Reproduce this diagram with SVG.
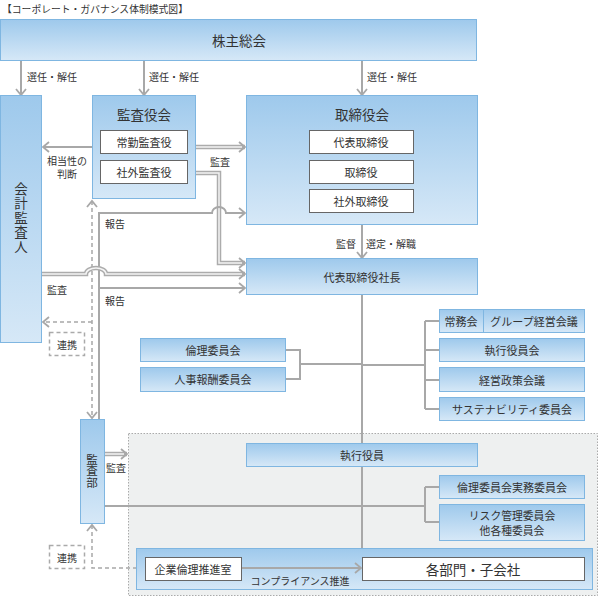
<svg xmlns="http://www.w3.org/2000/svg" width="600" height="597" viewBox="0 0 600 597">
<defs>
<linearGradient id="g" x1="0" y1="0" x2="0" y2="1"><stop offset="0" stop-color="#9ec9ec"/><stop offset="1" stop-color="#d6e8f7"/></linearGradient>
<marker id="a" markerUnits="userSpaceOnUse" markerWidth="10" markerHeight="12" refX="7" refY="6" orient="auto-start-reverse" overflow="visible"><path d="M1,1 L7,6 L1,11" fill="none" stroke="#a8a8a8" stroke-width="1.8"/></marker>
</defs>
<style>
.b{fill:url(#g);stroke:#7fb6e1;stroke-width:1}
.w{fill:#fff;stroke:#666;stroke-width:1}
.t{font-family:'Noto Sans CJK JP','Noto Sans',sans-serif;fill:#333;text-anchor:middle;dominant-baseline:central;font-size:11px}
.l{font-size:13.5px}
.s{font-size:10px}
.st{text-anchor:start}
.v{writing-mode:vertical-rl;text-orientation:upright}
.ln{fill:none;stroke:#a8a8a8;stroke-width:2}
.ho{fill:none;stroke:#acacac;stroke-width:4.5}
.hi{fill:none;stroke:#f4f4f4;stroke-width:1.5}
.da{fill:none;stroke:#a8a8a8;stroke-width:1.5;stroke-dasharray:4 3}
.dr{fill:#fff;stroke:#aaa;stroke-width:1.5;stroke-dasharray:4 3}
</style>
<text class="t st" x="2" y="9" style="font-size:9.8px">【コーポレート・ガバナンス体制模式図】</text>
<g id="compartment"><rect x="128.5" y="433.5" width="469" height="162" fill="#eef0f0" stroke="#aaa" stroke-dasharray="1.5 1.5"/></g>
<g id="connectors">
<path class="ln" d="M362,294 V548"/>
<path class="ln" d="M21,61 V95" marker-end="url(#a)"/>
<path class="ln" d="M144,61 V95" marker-end="url(#a)"/>
<path class="ln" d="M362,61 V95" marker-end="url(#a)"/>
<path class="ln" d="M362,225 V258" marker-end="url(#a)"/>
<path class="ln" d="M362,365 H425 M425,321 V409 M425,321 H439 M425,350 H439 M425,380 H439 M425,409 H439"/>
<path class="ln" d="M285,350 H300 V379 H285 M300,364 H362"/>
<path class="ln" d="M104,506 H425 M425,487 V522 M425,487 H439 M425,522 H439"/>
<path class="ln" d="M92,147 H43" marker-end="url(#a)"/>
<path class="ho" d="M196,147 H245" marker-end="url(#a)"/>
<path class="hi" d="M196,147 H242"/>
<path class="ho" d="M196,173 H219 V263 H245" marker-end="url(#a)"/>
<path class="hi" d="M196,173 H219 V263 H242"/>
<path class="da" d="M92,201 V418" marker-start="url(#a)" marker-end="url(#a)"/>
<path class="da" d="M92,322 H43" marker-end="url(#a)"/>
<path class="da" d="M92,525 V568 H144" marker-start="url(#a)" marker-end="url(#a)"/>
<path class="ln" d="M99,420 V213 H212 A7,6 0 0 1 226,213 H245" marker-end="url(#a)"/>
<path class="ln" d="M99,288 H245" marker-end="url(#a)"/>
<path class="ho" d="M41,274 H86 A10,6 0 0 1 106,274 H245" marker-end="url(#a)"/>
<path class="hi" d="M41,274 H86 A10,6 0 0 1 106,274 H242"/>
<path class="ho" d="M104,454 H127" marker-end="url(#a)"/>
<path class="hi" d="M104,454 H124"/>
<rect class="dr" x="49.5" y="332.5" width="35" height="23"/>
<rect class="dr" x="49.5" y="545.5" width="35" height="23"/>
<text class="t s" x="67" y="344">連携</text>
<text class="t s" x="67" y="557">連携</text>
<text class="t s st" x="27" y="76">選任・解任</text>
<text class="t s st" x="149" y="76">選任・解任</text>
<text class="t s st" x="367" y="76">選任・解任</text>
<text class="t s" x="67" y="160">相当性の</text>
<text class="t s" x="67" y="173.5">判断</text>
<text class="t s" x="220" y="161">監査</text>
<text class="t s st" x="105" y="223">報告</text>
<text class="t s st" x="105" y="300">報告</text>
<text class="t s st" x="47" y="289">監査</text>
<text class="t s" x="346" y="243">監督</text>
<text class="t s" x="391" y="243">選定・解職</text>
<text class="t s st" x="106" y="467">監査</text>
</g>
<g id="shareholders"><rect class="b" x="0.5" y="19.5" width="476" height="41"/><text class="t l" x="239" y="40">株主総会</text></g>
<g id="auditor"><rect class="b" x="0.5" y="95.5" width="41" height="247"/><text class="t l v" x="21" y="218" style="letter-spacing:1px">会計監査人</text></g>
<g id="kansayakukai"><rect class="b" x="92.5" y="95.5" width="103" height="103"/><text class="t l" x="144" y="114">監査役会</text>
<rect class="w" x="100.5" y="130.5" width="87" height="23"/><text class="t" x="144" y="142">常勤監査役</text>
<rect class="w" x="100.5" y="160.5" width="87" height="23"/><text class="t" x="144" y="172">社外監査役</text></g>
<g id="board"><rect class="b" x="246.5" y="95.5" width="231" height="129"/><text class="t l" x="362" y="114">取締役会</text>
<rect class="w" x="309.5" y="130.5" width="104" height="23"/><text class="t" x="361" y="142">代表取締役</text>
<rect class="w" x="309.5" y="160.5" width="104" height="23"/><text class="t" x="361" y="172">取締役</text>
<rect class="w" x="309.5" y="189.5" width="104" height="23"/><text class="t" x="361" y="201">社外取締役</text></g>
<g id="president"><rect class="b" x="246.5" y="258.5" width="231" height="36"/><text class="t" x="362" y="277">代表取締役社長</text></g>
<g id="jomukai"><rect class="b" x="439.5" y="309.5" width="145" height="23"/><line x1="483.5" y1="309.5" x2="483.5" y2="332.5" stroke="#7fb6e1"/><text class="t" x="461" y="321">常務会</text><text class="t" x="534" y="321">グループ経営会議</text></g>
<g id="shikkoyakuinkai"><rect class="b" x="439.5" y="338.5" width="145" height="23"/><text class="t" x="512" y="350">執行役員会</text></g>
<g id="keiei"><rect class="b" x="439.5" y="367.5" width="145" height="24"/><text class="t" x="512" y="380">経営政策会議</text></g>
<g id="sustain"><rect class="b" x="439.5" y="397.5" width="145" height="23"/><text class="t" x="512" y="409">サステナビリティ委員会</text></g>
<g id="rinri"><rect class="b" x="140.5" y="338.5" width="145" height="23"/><text class="t" x="213" y="350">倫理委員会</text></g>
<g id="jinji"><rect class="b" x="140.5" y="367.5" width="145" height="24"/><text class="t" x="213" y="379">人事報酬委員会</text></g>
<g id="shikkoyakuin"><rect class="b" x="246.5" y="443.5" width="231" height="23"/><text class="t" x="362" y="455">執行役員</text></g>
<g id="rinrijitsumu"><rect class="b" x="439.5" y="475.5" width="145" height="23"/><text class="t" x="512" y="487">倫理委員会実務委員会</text></g>
<g id="risk"><rect class="b" x="439.5" y="504.5" width="145" height="36"/><text class="t" x="512" y="515" style="font-size:10.8px">リスク管理委員会</text><text class="t" x="512" y="529.5" style="font-size:10.8px">他各種委員会</text></g>
<g id="kansabu"><rect class="b" x="80.5" y="419.5" width="24" height="104"/><text class="t v" x="92" y="471" style="font-size:11.5px">監査部</text></g>
<g id="compliance"><rect class="b" x="136.5" y="548.5" width="456" height="41"/>
<rect class="w" x="145.5" y="557.5" width="96" height="23"/><text class="t" x="193" y="569">企業倫理推進室</text>
<rect class="w" x="362.5" y="557.5" width="222" height="23"/><text class="t l" x="473" y="569">各部門・子会社</text></g>
<g id="connectors-compliance">
<path class="ln" d="M242,568 H361" marker-end="url(#a)"/>
<text class="t s" x="300" y="580">コンプライアンス推進</text>
</g>
</svg>
